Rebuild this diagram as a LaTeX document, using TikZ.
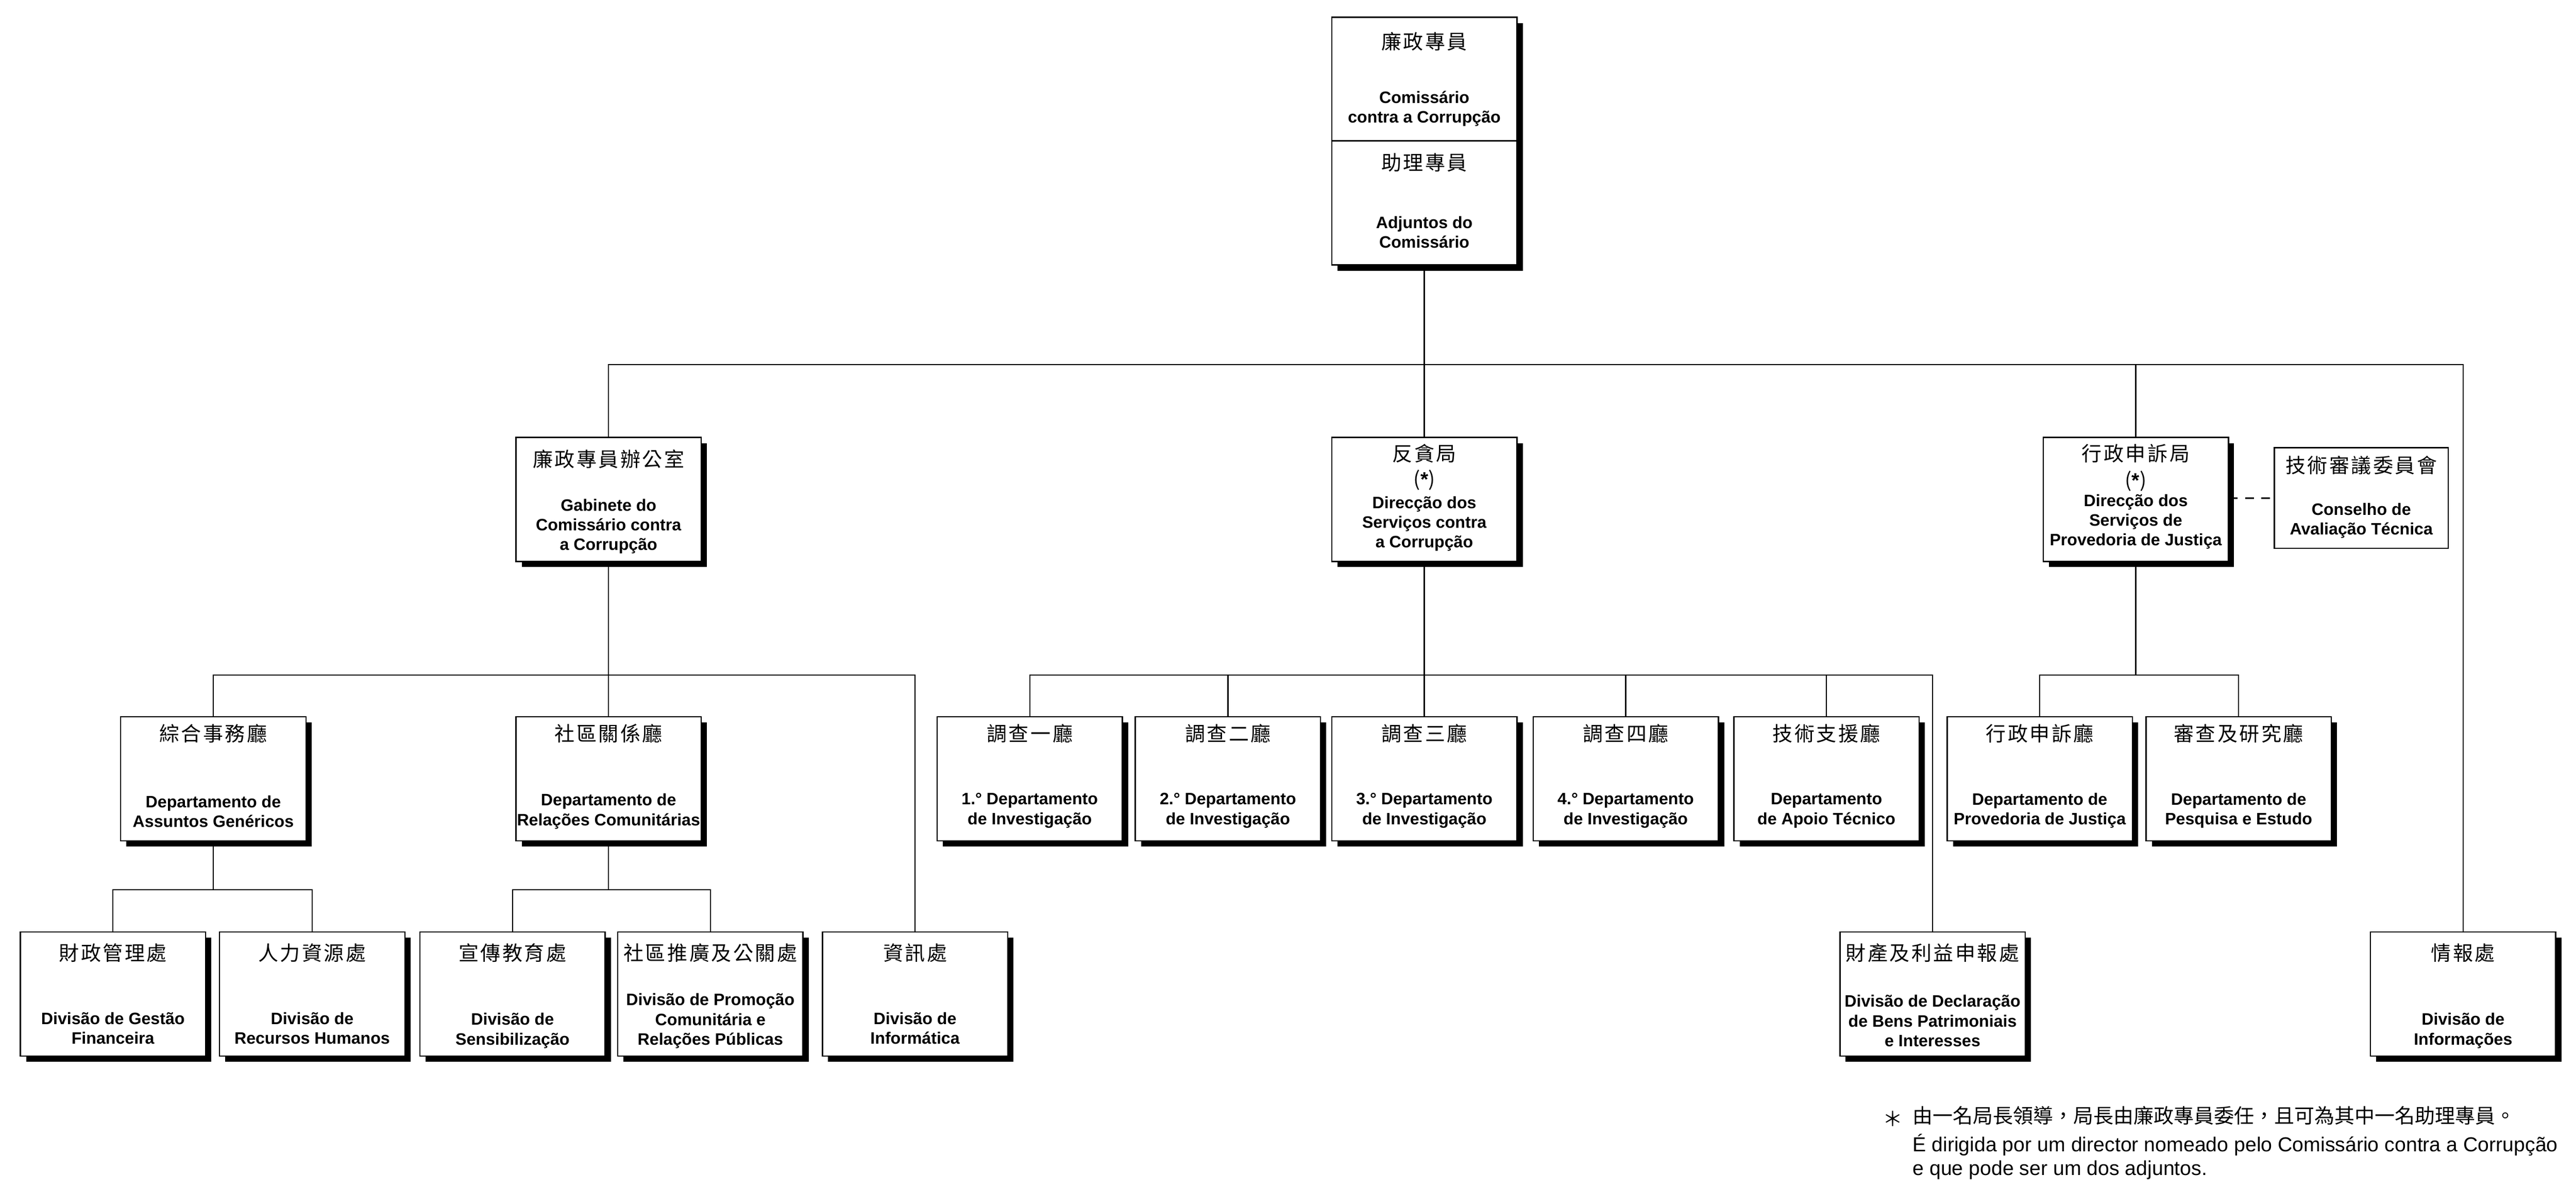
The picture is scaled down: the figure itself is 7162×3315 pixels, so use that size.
\documentclass[tikz,border=0pt]{standalone}
\usepackage{fontspec}
\setmainfont{Liberation Sans}
\newfontfamily\cjk{Noto Sans CJK TC}
\newfontfamily\cjkbox{Noto Sans CJK TC}[LetterSpace=9]
\usetikzlibrary{calc,shadows}

\tikzset{
  orgbox/.style={draw, line width=1pt, fill=white, inner sep=0pt, anchor=north,
    minimum width=51.5mm, minimum height=34.5mm,
    drop shadow={shadow xshift=1.6mm, shadow yshift=-1.6mm, fill=black, opacity=1}},
  plainbox/.style={draw, line width=1pt, fill=white, inner sep=0pt, anchor=north},
  zh/.style={inner sep=0pt, font=\fontsize{15.9pt}{18pt}\cjkbox},
  pt/.style={inner sep=0pt, align=center, font=\fontsize{13.1pt}{15.6pt}\selectfont\bfseries},
  star/.style={inner sep=0pt, font=\fontsize{15.9pt}{18pt}\selectfont},
  link/.style={line width=1pt},
}

\begin{document}
\begin{tikzpicture}[x=0.1mm, y=-0.1mm]

   \useasboundingbox (0,0) rectangle (7162,3315);

   \node[orgbox, minimum height=34.4mm] (comm) at (3960,46) {};
   \node[orgbox] (adj) at (3960,390) {};
   \node[zh] (comm-zh) at ($(comm.north)+(0,69)$) {廉政專員};
   \node[pt] (comm-pt) at ($(comm.north)+(0,256)$) {Comissário\\contra a Corrupção};
   \node[zh] (adj-zh) at ($(adj.north)+(0,62)$) {助理專員};
   \node[pt] (adj-pt) at ($(adj.north)+(0,256)$) {Adjuntos do\\Comissário};

   \node[orgbox] (gab) at (1692,1215) {};
   \node[zh] (gab-zh) at ($(gab.north)+(0,62)$) {廉政專員辦公室};
   \node[pt] (gab-pt) at ($(gab.north)+(0,249)$) {Gabinete do\\Comissário contra\\a Corrupção};

   \node[orgbox] (dscc) at (3960,1215) {};
   \node[zh] (dscc-zh) at ($(dscc.north)+(0,46)$) {反貪局};
   \node[star] (dscc-star) at ($(dscc.north)+(0,121)$) {{\cjk(}\textbf{*}{\cjk)}};
   \node[pt] (dscc-pt) at ($(dscc.north)+(0,242)$) {Direcção dos\\Serviços contra\\a Corrupção};

   \node[orgbox] (dspj) at (5938,1215) {};
   \node[zh] (dspj-zh) at ($(dspj.north)+(0,46)$) {行政申訴局};
   \node[star] (dspj-star) at ($(dspj.north)+(0,123)$) {{\cjk(}\textbf{*}{\cjk)}};
   \node[pt] (dspj-pt) at ($(dspj.north)+(0,236)$) {Direcção dos\\Serviços de\\Provedoria de Justiça};

   \node[plainbox, minimum width=48.3mm, minimum height=28mm] (cat) at (6565,1244) {};
   \node[zh] (cat-zh) at ($(cat.north)+(0,50)$) {技術審議委員會};
   \node[pt] (cat-pt) at ($(cat.north)+(0,204)$) {Conselho de\\Avaliação Técnica};

   \node[orgbox] (dag) at (593,1992) {};
   \node[zh] (dag-zh) at ($(dag.north)+(0,48)$) {綜合事務廳};
   \node[pt] (dag-pt) at ($(dag.north)+(0,265)$) {Departamento de\\Assuntos Genéricos};

   \node[orgbox] (drc) at (1692,1992) {};
   \node[zh] (drc-zh) at ($(drc.north)+(0,48)$) {社區關係廳};
   \node[pt] (drc-pt) at ($(drc.north)+(0,265)$) {Departamento de\\Relações Comunitárias};

   \node[orgbox] (inv1) at (2863,1992) {};
   \node[zh] (inv1-zh) at ($(inv1.north)+(0,48)$) {調查一廳};
   \node[pt] (inv1-pt) at ($(inv1.north)+(0,263)$) {1.° Departamento\\de Investigação};

   \node[orgbox] (inv2) at (3414,1992) {};
   \node[zh] (inv2-zh) at ($(inv2.north)+(0,48)$) {調查二廳};
   \node[pt] (inv2-pt) at ($(inv2.north)+(0,263)$) {2.° Departamento\\de Investigação};

   \node[orgbox] (inv3) at (3960,1992) {};
   \node[zh] (inv3-zh) at ($(inv3.north)+(0,48)$) {調查三廳};
   \node[pt] (inv3-pt) at ($(inv3.north)+(0,263)$) {3.° Departamento\\de Investigação};

   \node[orgbox] (inv4) at (4520,1992) {};
   \node[zh] (inv4-zh) at ($(inv4.north)+(0,48)$) {調查四廳};
   \node[pt] (inv4-pt) at ($(inv4.north)+(0,263)$) {4.° Departamento\\de Investigação};

   \node[orgbox] (dat) at (5078,1992) {};
   \node[zh] (dat-zh) at ($(dat.north)+(0,48)$) {技術支援廳};
   \node[pt] (dat-pt) at ($(dat.north)+(0,263)$) {Departamento\\de Apoio Técnico};

   \node[orgbox] (dpj) at (5671,1992) {};
   \node[zh] (dpj-zh) at ($(dpj.north)+(0,48)$) {行政申訴廳};
   \node[pt] (dpj-pt) at ($(dpj.north)+(0,263)$) {Departamento de\\Provedoria de Justiça};

   \node[orgbox] (dpe) at (6224,1992) {};
   \node[zh] (dpe-zh) at ($(dpe.north)+(0,48)$) {審查及研究廳};
   \node[pt] (dpe-pt) at ($(dpe.north)+(0,263)$) {Departamento de\\Pesquisa e Estudo};

   \node[orgbox] (dgf) at (314,2591) {};
   \node[zh] (dgf-zh) at ($(dgf.north)+(0,60)$) {財政管理處};
   \node[pt] (dgf-pt) at ($(dgf.north)+(0,269)$) {Divisão de Gestão\\Financeira};

   \node[orgbox] (drh) at (868,2591) {};
   \node[zh] (drh-zh) at ($(drh.north)+(0,60)$) {人力資源處};
   \node[pt] (drh-pt) at ($(drh.north)+(0,269)$) {Divisão de\\Recursos Humanos};

   \node[orgbox] (dse) at (1425,2591) {};
   \node[zh] (dse-zh) at ($(dse.north)+(0,60)$) {宣傳教育處};
   \node[pt] (dse-pt) at ($(dse.north)+(0,276)$) {Divisão de\\Sensibilização};

   \node[orgbox] (dpc) at (1975,2591) {};
   \node[zh] (dpc-zh) at ($(dpc.north)+(0,60)$) {社區推廣及公關處};
   \node[pt] (dpc-pt) at ($(dpc.north)+(0,249)$) {Divisão de Promoção\\Comunitária e\\Relações Públicas};

   \node[orgbox] (dinf) at (2544,2591) {};
   \node[zh] (dinf-zh) at ($(dinf.north)+(0,60)$) {資訊處};
   \node[pt] (dinf-pt) at ($(dinf.north)+(0,269)$) {Divisão de\\Informática};

   \node[orgbox] (dbp) at (5373,2591) {};
   \node[zh] (dbp-zh) at ($(dbp.north)+(0,60)$) {財產及利益申報處};
   \node[pt] (dbp-pt) at ($(dbp.north)+(0,249)$) {Divisão de Declaração\\de Bens Patrimoniais\\e Interesses};

   \node[orgbox] (dinfo) at (6848,2591) {};
   \node[zh] (dinfo-zh) at ($(dinfo.north)+(0,60)$) {情報處};
   \node[pt] (dinfo-pt) at ($(dinfo.north)+(0,276)$) {Divisão de\\Informações};

   \coordinate (bus1) at (3960,1014);
   \draw[link] (adj.south) -- (bus1);
   \draw[link] (gab.north) |- (bus1) -| (dinfo.north);
   \draw[link] (dscc.north) -- (bus1);
   \draw[link] (dspj.north) -- (dspj.north |- bus1);
   \draw[link, dash pattern=on 2.4mm off 2.1mm] (dspj.east |- cat.west) -- (cat.west);

   \coordinate (bus2a) at (1692,1878);
   \draw[link] (gab.south) -- (bus2a);
   \draw[link] (dag.north) |- (bus2a) -| (dinf.north);
   \draw[link] (drc.north) -- (bus2a);

   \coordinate (bus2b) at (3960,1878);
   \draw[link] (dscc.south) -- (bus2b);
   \draw[link] (inv1.north) |- (bus2b) -| (dbp.north);
   \draw[link] (inv2.north) -- (inv2.north |- bus2b);
   \draw[link] (inv3.north) -- (bus2b);
   \draw[link] (inv4.north) -- (inv4.north |- bus2b);
   \draw[link] (dat.north) -- (dat.north |- bus2b);

   \coordinate (bus2c) at (5938,1878);
   \draw[link] (dspj.south) -- (bus2c);
   \draw[link] (dpj.north) |- (bus2c) -| (dpe.north);

   \coordinate (bus3a) at (593,2475);
   \draw[link] (dag.south) -- (bus3a);
   \draw[link] (dgf.north) |- (bus3a) -| (drh.north);

   \coordinate (bus3b) at (1692,2475);
   \draw[link] (drc.south) -- (bus3b);
   \draw[link] (dse.north) |- (bus3b) -| (dpc.north);

   \node[inner sep=0pt, font=\fontsize{15.9pt}{18pt}\cjk] (note-star) at (5262,3112) {＊};
   \node[anchor=west, inner sep=0pt, font=\fontsize{15.9pt}{18pt}\cjk] (note-zh) at (5317,3103) {由一名局長領導，局長由廉政專員委任，且可為其中一名助理專員。};
   \node[anchor=west, align=left, inner sep=0pt, font=\fontsize{16pt}{18.4pt}\selectfont] (note-pt) at (5317,3218) {É dirigida por um director nomeado pelo Comissário contra a Corrupção\\e que pode ser um dos adjuntos.};

\end{tikzpicture}
\end{document}
